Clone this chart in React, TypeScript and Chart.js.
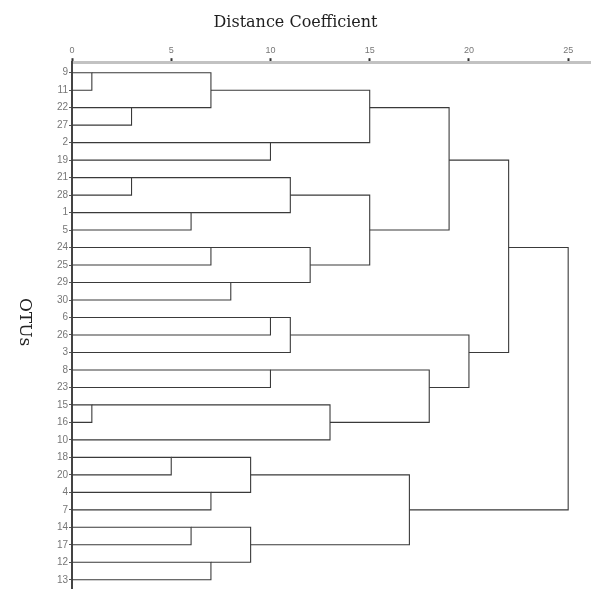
import React, { useEffect, useRef } from 'react';
import { Chart, registerables } from 'chart.js';

Chart.register(...registerables);

// OTU order from top to bottom
const otuLabels = ['9', '11', '22', '27', '2', '19', '21', '28', '1', '5', '24', '25', '29', '30', '6', '26', '3', '8', '23', '15', '16', '10', '18', '20', '4', '7', '14', '17', '12', '13'];

// Agglomeration steps: ids 0..29 are leaves (row order), 30+ are clusters created in order
const mergeLeft = [0, 19, 2, 6, 22, 8, 26, 30, 10, 24, 28, 12, 34, 36, 4, 14, 17, 33, 45, 38, 31, 37, 47, 42, 46, 51, 48, 55, 57];
const mergeRight = [1, 20, 3, 7, 23, 9, 27, 32, 11, 25, 29, 13, 39, 40, 5, 15, 18, 35, 16, 41, 21, 44, 49, 43, 50, 52, 54, 56, 53];
const mergeHeight = [1, 1, 3, 3, 5, 6, 6, 7, 7, 7, 7, 8, 9, 9, 10, 10, 10, 11, 11, 12, 13, 15, 15, 17, 18, 19, 20, 22, 25];

const xTicks = [0, 5, 10, 15, 20, 25];

const titleText = 'Distance Coefficient';
const yTitleText = 'OTUs';

function buildDatasets() {
  const pos: number[] = otuLabels.map((_, i) => i);
  const hgt: number[] = otuLabels.map(() => 0);
  return mergeHeight.map((h, i) => {
    const a = mergeLeft[i];
    const b = mergeRight[i];
    const ya = pos[a];
    const yb = pos[b];
    pos.push(Math.floor((Math.min(ya, yb) + Math.max(ya, yb)) / 2));
    hgt.push(h);
    return {
      data: [
        { x: hgt[a], y: ya },
        { x: h, y: ya },
        { x: h, y: yb },
        { x: hgt[b], y: yb },
      ],
      showLine: true,
      borderColor: '#3a3a3a',
      borderWidth: 1.1,
      pointRadius: 0,
      tension: 0,
      fill: false,
    };
  });
}

const yTitlePlugin = {
  id: 'yTitleRotated',
  afterDraw(chart: any) {
    const { ctx, chartArea } = chart;
    ctx.save();
    ctx.translate(24, (chartArea.top + chartArea.bottom) / 2 - 3);
    ctx.rotate(Math.PI / 2);
    ctx.font = '17px "DejaVu Serif"';
    ctx.fillStyle = '#222';
    ctx.textAlign = 'center';
    ctx.textBaseline = 'middle';
    ctx.fillText(yTitleText, 0, 0);
    ctx.restore();
  },
};

export default function App() {
  const canvasRef = useRef<HTMLCanvasElement | null>(null);

  useEffect(() => {
    if (!canvasRef.current) return;
    const chart = new Chart(canvasRef.current, {
      type: 'scatter',
      data: { datasets: buildDatasets() as any },
      plugins: [yTitlePlugin],
      options: {
        animation: false,
        responsive: true,
        maintainAspectRatio: false,
        layout: { padding: { top: 0, right: 0, bottom: 0, left: 0 } },
        plugins: {
          legend: { display: false },
          tooltip: { enabled: false },
          title: {
            display: true,
            text: titleText,
            color: '#1e1e1e',
            font: { family: '"DejaVu Serif"', size: 16, weight: 'normal' },
            padding: { top: 13, bottom: 10 },
          },
        },
        scales: {
          x: {
            type: 'linear',
            position: 'top',
            min: 0,
            max: 26.15,
            afterBuildTicks: (scale: any) => {
              scale.ticks = xTicks.map((v) => ({ value: v }));
            },
            afterFit: (scale: any) => {
              scale.height = 20;
            },
            grid: {
              drawOnChartArea: false,
              drawTicks: true,
              tickLength: 4,
              tickWidth: 2,
              color: '#333',
            },
            border: { display: true, color: '#c2c2c2', width: 3 },
            ticks: {
              autoSkip: false,
              padding: 2,
              color: '#777',
              font: { family: '"Liberation Sans"', size: 9 },
            },
          },
          y: {
            type: 'linear',
            reverse: true,
            min: -0.6,
            max: 29.47,
            afterBuildTicks: (scale: any) => {
              scale.ticks = otuLabels.map((_, i) => ({ value: i }));
            },
            afterFit: (scale: any) => {
              scale.width = 72;
            },
            grid: {
              drawOnChartArea: false,
              drawTicks: true,
              tickLength: 3,
              color: '#555',
            },
            border: { display: true, color: '#444', width: 2 },
            ticks: {
              autoSkip: false,
              padding: 1,
              color: '#777',
              font: { family: '"Liberation Sans"', size: 10 },
              callback: (value: any) => otuLabels[Number(value)] ?? '',
            },
          },
        },
      },
    } as any);
    return () => chart.destroy();
  }, []);

  return (
    <div style={{ position: 'fixed', left: 0, top: 0, width: 591, height: 595, background: '#fff' }}>
      <canvas ref={canvasRef} />
    </div>
  );
}
